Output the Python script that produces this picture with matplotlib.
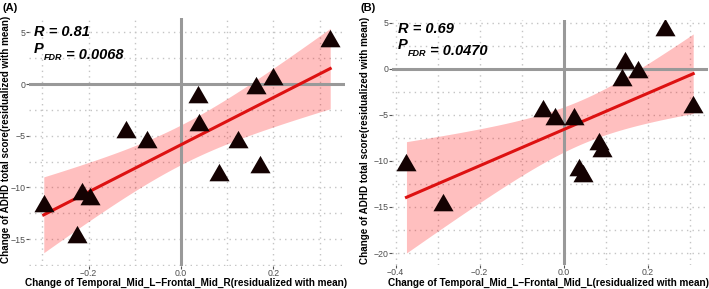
import numpy as np
import matplotlib.pyplot as plt
from matplotlib.ticker import MultipleLocator

plt.rcParams['font.family'] = ['Liberation Sans', 'DejaVu Sans']

# panel A data
a_x = [0.323, 0.200, 0.163, 0.036, 0.040, -0.120, -0.074, 0.123,
       0.083, 0.172, -0.215, -0.197, -0.297, -0.226]
a_y = [4.2, 0.45, -0.35, -1.3, -4.0, -4.65, -5.6, -5.6,
       -8.8, -8.05, -10.6, -11.1, -11.75, -14.8]
a_xticks = [-0.2, 0.0, 0.2]
a_yticks = [5, 0, -5, -10, -15]

# panel B data
b_x = [0.240, 0.307, 0.145, 0.175, 0.137, -0.049, -0.021, 0.024,
       0.083, 0.090, 0.036, 0.046, -0.374, -0.287]
b_y = [4.2, -4.1, 0.6, -0.3, -1.2, -4.6, -5.5, -5.5,
       -8.2, -8.9, -11.0, -11.6, -10.4, -14.8]
b_xticks = [-0.4, -0.2, 0.0, 0.2]
b_yticks = [5, 0, -5, -10, -15, -20]

T_CRIT = 2.179  # t(0.975, df=12)

ylab = 'Change of ADHD total score(residualized with mean)'
tri = [(0, 1), (-0.866, -0.5), (0.866, -0.5)]


def lm_band(x, y, num=80):
    x, y = np.asarray(x), np.asarray(y)
    n = x.size
    b1, b0 = np.polyfit(x, y, 1)
    resid = y - (b0 + b1 * x)
    s = np.sqrt(np.sum(resid ** 2) / (n - 2))
    xs = np.linspace(x.min(), x.max(), num)
    fit = b0 + b1 * xs
    se = s * np.sqrt(1 / n + (xs - x.mean()) ** 2 / np.sum((x - x.mean()) ** 2))
    return xs, fit, fit - T_CRIT * se, fit + T_CRIT * se


def panel(ax, x, y, xticks, yticks, xlim, ylim, xlab, r, p, tpos, xlc, ylc):
    ax.set_xlim(*xlim)
    ax.set_ylim(*ylim)
    for s in ax.spines.values():
        s.set_visible(False)
    ax.xaxis.set_major_locator(MultipleLocator(0.2))
    ax.xaxis.set_minor_locator(MultipleLocator(0.1))
    ax.yaxis.set_major_locator(MultipleLocator(5))
    ax.yaxis.set_minor_locator(MultipleLocator(2.5))
    ax.set_xticks(xticks)
    ax.set_yticks(yticks)
    ax.set_xticklabels(['%.1f' % v if v >= 0 else '\u2212%.1f' % -v for v in xticks])
    ax.grid(which='both', color='#c4c4c4', linestyle=(0, (1, 3)), linewidth=1.0)
    ax.set_axisbelow(True)
    ax.tick_params(which='major', length=2, width=0.8, color='#555555',
                   labelsize=6.3, labelcolor='#4D4D4D', pad=0.5)
    ax.tick_params(which='minor', length=0)

    xs, fit, lo, hi = lm_band(x, y)
    ax.fill_between(xs, lo, hi, color='#ff0000', alpha=0.25, linewidth=0, zorder=1)
    ax.axhline(0, color='#999999', linewidth=2.2, zorder=2)
    ax.axvline(0, color='#999999', linewidth=2.2, zorder=2)
    ax.plot(xs, fit, color='#dd1111', linewidth=2.2, zorder=3)
    ax.scatter(x, y, marker=tri, s=280, color='#140202', linewidths=0, zorder=4)

    ax.set_xlabel(xlab, fontsize=7.2, fontweight='bold', va='baseline')
    ax.set_ylabel(ylab, fontsize=7.1, fontweight='bold', va='center')
    ax.xaxis.set_label_coords(*xlc)
    ax.yaxis.set_label_coords(*ylc)

    ax.text(tpos[0], tpos[1], 'R = ' + r, transform=ax.transAxes, fontsize=10.5,
            fontweight='bold', fontstyle='italic', va='center', ha='left')
    tp = ax.text(tpos[0], tpos[2], 'P', transform=ax.transAxes, fontsize=10.5,
                 fontweight='bold', fontstyle='italic', va='center', ha='left')
    sub = ax.annotate('FDR', xy=(1, 0), xycoords=tp, xytext=(0, -1),
                      textcoords='offset points', fontsize=6.5, fontweight='bold',
                      fontstyle='italic', va='center', ha='left')
    ax.annotate(' = ' + p, xy=(1, 0), xycoords=sub, xytext=(0, 2),
                textcoords='offset points', fontsize=10.5, fontweight='bold',
                fontstyle='italic', va='baseline', ha='left')


fig = plt.figure(figsize=(7.09, 2.89), dpi=100)
ax1 = fig.add_axes([0.0409, 0.0796, 0.4457, 0.8564])
ax2 = fig.add_axes([0.5525, 0.083, 0.446, 0.848])

panel(ax1, a_x, a_y, a_xticks, a_yticks, (-0.329, 0.355), (-17.6, 6.34),
      'Change of Temporal_Mid_L\u2212Frontal_Mid_R(residualized with mean)',
      '0.81', '0.0068', (0.015, 0.946, 0.878), (0.496, -0.081), (-0.073, 0.51))
panel(ax2, b_x, b_y, b_xticks, b_yticks, (-0.409, 0.342), (-21.3, 5.3),
      'Change of Temporal_Mid_L\u2212Frontal_Mid_L(residualized with mean)',
      '0.69', '0.0470', (0.02, 0.963, 0.898), (0.497, -0.0857), (-0.086, 0.51))

fig.text(0.003, 0.972, '(A)', fontsize=8, fontweight='bold', va='center', ha='left')
fig.text(0.508, 0.972, '(B)', fontsize=8, fontweight='bold', va='center', ha='left')

fig.savefig('out.png', dpi=100)
